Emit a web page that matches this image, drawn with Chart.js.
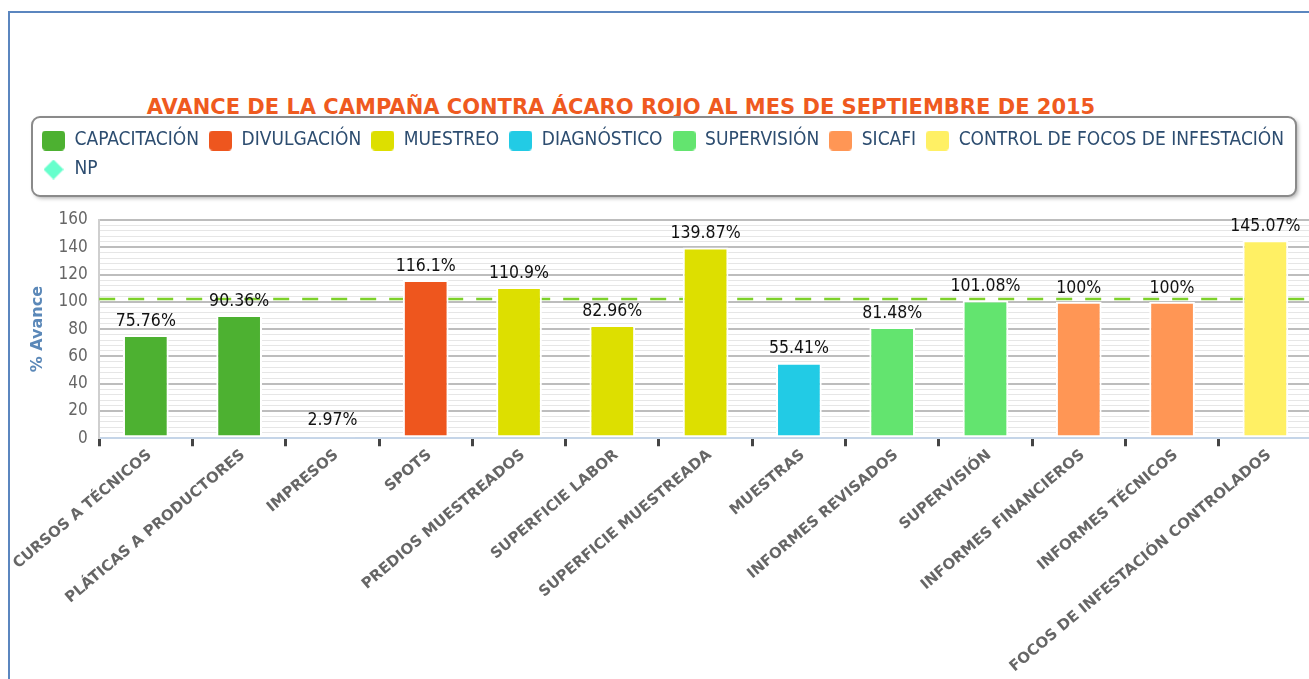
<!DOCTYPE html>
<html>
<head>
<meta charset="utf-8">
<script src="https://cdn.jsdelivr.net/npm/chart.js@4.4.0/dist/chart.umd.min.js"></script>
<style>
html, body { margin: 0; padding: 0; width: 1309px; height: 679px; overflow: hidden; background: #fff; }
#marco { position: absolute; left: 8px; top: 11px; width: 1400px; height: 800px; border-left: 2px solid #5b86bf; border-top: 2px solid #5b86bf; }
#titulo { position: absolute; left: 0; width: 1242px; top: 95px; text-align: center; font: bold 21px "DejaVu Sans"; color: #ef5a1f; white-space: nowrap; }
#contenedor { position: absolute; left: 0; top: 13px; width: 1320px; height: 663px; }
</style>
</head>
<body>
<div id="marco"></div>
<div id="titulo">AVANCE DE LA CAMPAÑA CONTRA ÁCARO ROJO AL MES DE SEPTIEMBRE DE 2015</div>
<div id="contenedor"><canvas id="avanceChart"></canvas></div>
<script>
// categorias del eje x
const categorias = ['CURSOS A TÉCNICOS', 'PLÁTICAS A PRODUCTORES', 'IMPRESOS', 'SPOTS', 'PREDIOS MUESTREADOS',
    'SUPERFICIE LABOR', 'SUPERFICIE MUESTREADA', 'MUESTRAS', 'INFORMES REVISADOS', 'SUPERVISIÓN',
    'INFORMES FINANCIEROS', 'INFORMES TÉCNICOS', 'FOCOS DE INFESTACIÓN CONTROLADOS'];

// avance por serie (null = no aplica)
const capacitacion = [75.76, 90.36, null, null, null, null, null, null, null, null, null, null, null];
const divulgacion  = [null, null, 2.97, 116.1, null, null, null, null, null, null, null, null, null];
const muestreo     = [null, null, null, null, 110.9, 82.96, 139.87, null, null, null, null, null, null];
const diagnostico  = [null, null, null, null, null, null, null, 55.41, null, null, null, null, null];
const supervision  = [null, null, null, null, null, null, null, null, 81.48, 101.08, null, null, null];
const sicafi       = [null, null, null, null, null, null, null, null, null, null, 100, 100, null];
const controlFocos = [null, null, null, null, null, null, null, null, null, null, null, null, 145.07];

// nivel NP (linea punteada)
const np = 102;

const yTicks = { min: 0, max: 160, paso: 20, pasoMenor: 4 };

const series = [
    { label: 'CAPACITACIÓN', data: capacitacion, color: '#4db131' },
    { label: 'DIVULGACIÓN', data: divulgacion, color: '#ee561e' },
    { label: 'MUESTREO', data: muestreo, color: '#dddf00' },
    { label: 'DIAGNÓSTICO', data: diagnostico, color: '#22cbe5' },
    { label: 'SUPERVISIÓN', data: supervision, color: '#63e46f' },
    { label: 'SICAFI', data: sicafi, color: '#ff9655' },
    { label: 'CONTROL DE FOCOS DE INFESTACIÓN', data: controlFocos, color: '#fff064' }
];

const fuente = '"DejaVu Sans Condensed", "DejaVu Sans"';
const extraLeyenda = 31;

// iconos de la leyenda
function iconoCuadro(color) {
    const c = document.createElement('canvas');
    c.width = 23; c.height = 20;
    const g = c.getContext('2d');
    g.fillStyle = color;
    g.beginPath();
    g.roundRect(0, 0, 23, 20, 4);
    g.fill();
    return c;
}
function iconoRombo(color) {
    const c = document.createElement('canvas');
    c.width = 20; c.height = 20;
    const g = c.getContext('2d');
    g.fillStyle = color;
    g.beginPath();
    g.moveTo(10, 0); g.lineTo(20, 10); g.lineTo(10, 20); g.lineTo(0, 10);
    g.closePath();
    g.fill();
    return c;
}

const datasets = series.map(s => ({
    type: 'bar',
    label: s.label,
    data: s.data,
    stack: 'barras',
    backgroundColor: s.color,
    borderColor: '#ffffff',
    borderWidth: 2,
    borderSkipped: false,
    pointStyle: iconoCuadro(s.color),
    categoryPercentage: 1,
    barPercentage: 0.49,
    order: 1
}));

// serie NP: solo leyenda, la linea la traza el plugin a todo lo ancho
datasets.push({
    type: 'line',
    label: 'NP',
    data: [],
    borderColor: '#7dd12a',
    borderWidth: 2.5,
    borderDash: [16, 13],
    pointRadius: 0,
    pointStyle: iconoRombo('#66ffcc'),
    backgroundColor: '#66ffcc',
    order: 10
});

const lineaNP = {
    id: 'lineaNP',
    beforeDatasetsDraw(chart) {
        const ds = chart.data.datasets.find(d => d.label === 'NP');
        const area = chart.chartArea;
        const y = chart.scales.y.getPixelForValue(np);
        const ctx = chart.ctx;
        ctx.save();
        ctx.strokeStyle = ds.borderColor;
        ctx.lineWidth = ds.borderWidth;
        ctx.setLineDash(ds.borderDash);
        ctx.beginPath();
        ctx.moveTo(area.left, y);
        ctx.lineTo(area.right, y);
        ctx.stroke();
        ctx.restore();
    }
};

// etiquetas de valor sobre las barras
const etiquetasValor = {
    id: 'etiquetasValor',
    afterDatasetsDraw(chart) {
        const ctx = chart.ctx;
        ctx.save();
        ctx.font = '17.5px ' + fuente;
        ctx.fillStyle = '#111';
        ctx.textAlign = 'center';
        ctx.textBaseline = 'bottom';
        chart.data.datasets.forEach((ds, i) => {
            if (ds.type !== 'bar') return;
            chart.getDatasetMeta(i).data.forEach((el, j) => {
                const v = ds.data[j];
                if (v === null) return;
                ctx.fillText(v + '%', el.x, el.y - 5);
            });
        });
        ctx.restore();
    }
};

// espacio extra bajo la leyenda y marco redondeado
const marcoLeyenda = {
    id: 'marcoLeyenda',
    afterInit(chart) {
        const leyenda = chart.legend;
        const fitOriginal = leyenda.fit;
        leyenda.fit = function () {
            fitOriginal.bind(this)();
            this.height += extraLeyenda;
        };
    },
    beforeDraw(chart) {
        const l = chart.legend;
        const ctx = chart.ctx;
        ctx.save();
        ctx.shadowColor = 'rgba(0,0,0,0.35)';
        ctx.shadowBlur = 4;
        ctx.shadowOffsetX = 2;
        ctx.shadowOffsetY = 2;
        ctx.fillStyle = '#fff';
        ctx.strokeStyle = '#8a8a8a';
        ctx.lineWidth = 2;
        ctx.beginPath();
        ctx.roundRect(l.left, l.top - 4, l.width - 16, l.height - extraLeyenda + 11, 8);
        ctx.fill();
        ctx.shadowColor = 'transparent';
        ctx.stroke();
        ctx.restore();
    }
};

const ctx = document.getElementById('avanceChart').getContext('2d');
const avanceChart = new Chart(ctx, {
    data: { labels: categorias, datasets: datasets },
    options: {
        responsive: true,
        maintainAspectRatio: false,
        animation: false,
        layout: { padding: { top: 108, left: 32, right: 8, bottom: 0 } },
        plugins: {
            title: { display: false },
            tooltip: { enabled: false },
            legend: {
                position: 'top',
                align: 'start',
                labels: {
                    usePointStyle: true,
                    pointStyleWidth: 23,
                    padding: 10,
                    color: '#2d4d70',
                    font: { family: fuente, size: 19 }
                }
            }
        },
        scales: {
            x: {
                type: 'category',
                offset: true,
                stacked: true,
                grid: {
                    offset: true,
                    drawOnChartArea: false,
                    tickLength: 8,
                    tickWidth: 3,
                    tickColor: '#444'
                },
                border: { color: '#c5d5e8', width: 2 },
                ticks: {
                    autoSkip: false,
                    minRotation: 40,
                    maxRotation: 40,
                    labelOffset: 4,
                    color: '#666',
                    padding: 0,
                    font: { family: 'DejaVu Sans', size: 15, weight: 'bold' }
                }
            },
            y: {
                min: yTicks.min,
                max: yTicks.max,
                stacked: true,
                grid: {
                    drawTicks: false,
                    color: c => c.tick.value % yTicks.paso === 0 ? '#bdbdbd' : '#e6e6e6',
                    lineWidth: c => c.tick.value % yTicks.paso === 0 ? 2 : 1
                },
                border: { color: '#cfcfcf', width: 2 },
                ticks: {
                    stepSize: yTicks.pasoMenor,
                    autoSkip: false,
                    padding: 11.4,
                    color: '#666',
                    font: { family: fuente, size: 17 },
                    callback: v => v % yTicks.paso === 0 ? v : ''
                },
                title: {
                    display: true,
                    text: '% Avance',
                    color: '#5b88b8',
                    font: { family: 'DejaVu Sans', size: 16, weight: 'bold' },
                    padding: { top: -4, bottom: 0 }
                }
            }
        }
    },
    plugins: [marcoLeyenda, lineaNP, etiquetasValor]
});
</script>
</body>
</html>
